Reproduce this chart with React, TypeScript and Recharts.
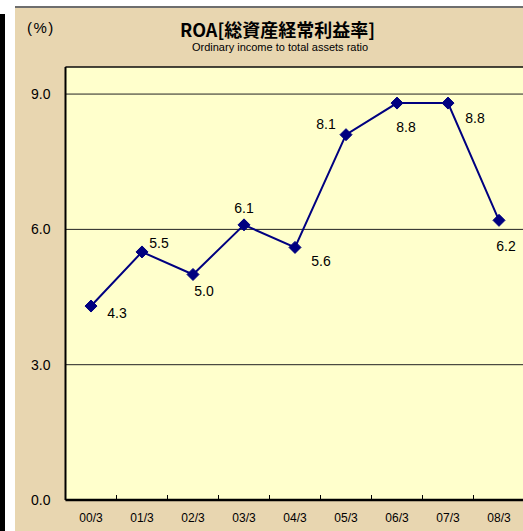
import React from 'react'
import {
  LineChart,
  Line,
  XAxis,
  YAxis,
  CartesianGrid,
  ReferenceLine,
  LabelList,
} from 'recharts'

const periods = ['00/3', '01/3', '02/3', '03/3', '04/3', '05/3', '06/3', '07/3', '08/3']
const roaValues = [4.3, 5.5, 5.0, 6.1, 5.6, 8.1, 8.8, 8.8, 6.2]
const yTicks = [0, 3, 6, 9]

// where each value label sits relative to its point
const labelOffsets: [number, number][] = [
  [26, 7],
  [17, -9],
  [11, 17],
  [0, -17],
  [26, 14],
  [-20, -11],
  [9, 24],
  [27, 15],
  [7, 26],
]

const data = periods.map((p, i) => ({ name: p, value: roaValues[i] }))

const NUM_FONT = '"Liberation Sans", Arial, sans-serif'
const JP_FONT = '"Noto Sans CJK JP", "Liberation Sans", sans-serif'
const CHART_W = 530
const PLOT_LEFT = 65.5
const PLOT_RIGHT_MARGIN = 5.5
const BAND = (CHART_W - PLOT_LEFT - PLOT_RIGHT_MARGIN) / periods.length

const Diamond = (props: any) => {
  const { cx, cy } = props
  if (cx == null || cy == null) return null
  const r = 6
  return (
    <polygon
      points={`${cx},${cy - r} ${cx + r},${cy} ${cx},${cy + r} ${cx - r},${cy}`}
      fill="#000080"
      stroke="#000080"
      strokeWidth={1}
    />
  )
}

const XTick = (props: any) => {
  const { x, y, payload } = props
  return (
    <g>
      <line x1={x + BAND / 2} x2={x + BAND / 2} y1={y} y2={y - 5} stroke="#000" strokeWidth={1} />
      <text x={x} y={y + 22} textAnchor="middle" fontSize={12} fontFamily={NUM_FONT} fill="#000">
        {payload.value}
      </text>
    </g>
  )
}

const ValueLabel = (props: any) => {
  const { x, y, value, index } = props
  const [dx, dy] = labelOffsets[index] || [0, -15]
  return (
    <text
      x={x + dx}
      y={y + dy + 5}
      textAnchor="middle"
      fontSize={14}
      fontFamily={NUM_FONT}
      fill="#000"
    >
      {Number(value).toFixed(1)}
    </text>
  )
}

export default function App() {
  return (
    <div
      style={{
        position: 'fixed',
        left: 0,
        top: 0,
        width: 523,
        height: 531,
        overflow: 'hidden',
        background: '#fff',
      }}
    >
      <div style={{ position: 'absolute', left: 0, top: 14, width: 5, height: 517, background: '#000' }} />
      <div
        style={{
          position: 'absolute',
          left: 15,
          top: 6,
          width: 520,
          height: 530,
          background: '#e8d6b0',
          borderTop: '2px solid #6e6e6e',
        }}
      />
      <div
        style={{
          position: 'absolute',
          left: 27,
          top: 19,
          fontSize: 15,
          fontFamily: NUM_FONT,
          color: '#000',
          letterSpacing: 1.5,
        }}
      >
        (%)
      </div>
      <div
        style={{
          position: 'absolute',
          left: 0,
          width: 555,
          top: 17,
          textAlign: 'center',
          fontSize: 18,
          fontWeight: 'bold',
          fontFamily: JP_FONT,
          lineHeight: '24px',
          color: '#000',
        }}
      >
        ROA[総資産経常利益率]
      </div>
      <div
        style={{
          position: 'absolute',
          left: 0,
          width: 560,
          top: 40,
          textAlign: 'center',
          fontSize: 11,
          fontFamily: NUM_FONT,
          lineHeight: '14px',
          color: '#000',
        }}
      >
        Ordinary income to total assets ratio
      </div>
      <div style={{ position: 'absolute', left: 0, top: 0 }}>
        <LineChart
          width={CHART_W}
          height={531}
          data={data}
          margin={{ top: 67, right: PLOT_RIGHT_MARGIN, left: 0, bottom: 0 }}
        >
          <CartesianGrid vertical={false} stroke="#222" fill="#ffffcc" fillOpacity={1} />
          <ReferenceLine y={9.6} stroke="#000" strokeWidth={1} />
          <XAxis
            dataKey="name"
            height={31}
            tickSize={0}
            tickMargin={0}
            padding={{ left: BAND / 2, right: BAND / 2 }}
            axisLine={{ stroke: '#000', strokeWidth: 2.5 }}
            tick={<XTick />}
            interval={0}
          />
          <YAxis
            width={PLOT_LEFT}
            domain={[0, 9.6]}
            ticks={yTicks}
            tickSize={0}
            tickMargin={15}
            axisLine={{ stroke: '#000', strokeWidth: 2 }}
            tick={{ fontSize: 14, fill: '#000', fontFamily: NUM_FONT }}
            tickFormatter={(v: number) => v.toFixed(1)}
          />
          <Line
            type="linear"
            dataKey="value"
            stroke="#000080"
            strokeWidth={2}
            dot={<Diamond />}
            activeDot={false}
            isAnimationActive={false}
          >
            <LabelList dataKey="value" content={<ValueLabel />} />
          </Line>
        </LineChart>
      </div>
    </div>
  )
}
